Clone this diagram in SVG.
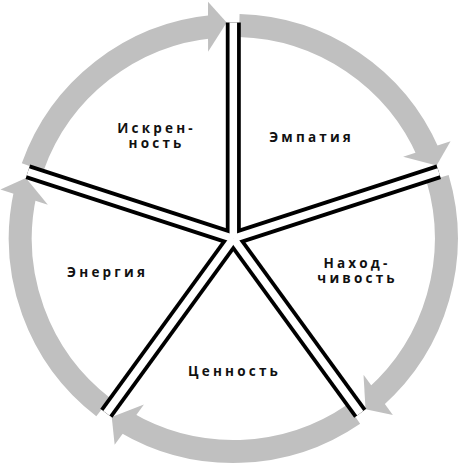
<svg xmlns="http://www.w3.org/2000/svg" xmlns:xlink="http://www.w3.org/1999/xlink" width="464" height="469" viewBox="0 0 464 469">
<style>
.body{fill:none;stroke:#c0c0c0;stroke-width:23;stroke-linecap:butt}
.head{fill:#c0c0c0;stroke:none}
.barK{stroke:#000;stroke-width:15;stroke-linecap:butt}
.barW{stroke:#fff;stroke-width:7.5;stroke-linecap:butt}
.lbl{font-family:"Open Sans","DejaVu Sans",sans-serif;font-weight:bold;font-size:13.5px;letter-spacing:3.2px;fill:#111;text-anchor:middle}
</style>
<defs>
<g id="seg">
<path class="body" d="M239.25,25.58 A213,213 0 0 1 428.63,153.57"/>
<polygon class="head" points="450.55,141.32 436.59,165.51 403.15,156.76"/>
</g>
</defs>
<rect width="464" height="469" fill="#fff"/>
<g id="connectors">
<use xlink:href="#seg" href="#seg"/>
<use xlink:href="#seg" href="#seg" transform="rotate(72 233.3 238.5)"/>
<use xlink:href="#seg" href="#seg" transform="rotate(144 233.3 238.5)"/>
<use xlink:href="#seg" href="#seg" transform="rotate(216 233.3 238.5)"/>
<use xlink:href="#seg" href="#seg" transform="rotate(288 233.3 238.5)"/>
</g>
<g id="dividers">
<line class="barK" x1="233.3" y1="238.5" x2="233.3" y2="22.5"/>
<line class="barK" x1="233.3" y1="238.5" x2="438.73" y2="171.75"/>
<line class="barK" x1="233.3" y1="238.5" x2="360.26" y2="413.25"/>
<line class="barK" x1="233.3" y1="238.5" x2="106.34" y2="413.25"/>
<line class="barK" x1="233.3" y1="238.5" x2="27.87" y2="171.75"/>
<line class="barW" x1="233.3" y1="238.5" x2="233.3" y2="22.5"/>
<line class="barW" x1="233.3" y1="238.5" x2="438.73" y2="171.75"/>
<line class="barW" x1="233.3" y1="238.5" x2="360.26" y2="413.25"/>
<line class="barW" x1="233.3" y1="238.5" x2="106.34" y2="413.25"/>
<line class="barW" x1="233.3" y1="238.5" x2="27.87" y2="171.75"/>
</g>
<g id="node-iskrennost"><text class="lbl" x="156.6" y="133">Искрен-</text><text class="lbl" x="156.6" y="148">ность</text></g>
<g id="node-empatiya"><text class="lbl" x="311.6" y="142">Эмпатия</text></g>
<g id="node-nakhodchivost"><text class="lbl" x="357" y="268">Наход-</text><text class="lbl" x="357.6" y="283">чивость</text></g>
<g id="node-tsennost"><text class="lbl" x="234.6" y="376">Ценность</text></g>
<g id="node-energiya"><text class="lbl" x="107.6" y="277">Энергия</text></g>
</svg>
